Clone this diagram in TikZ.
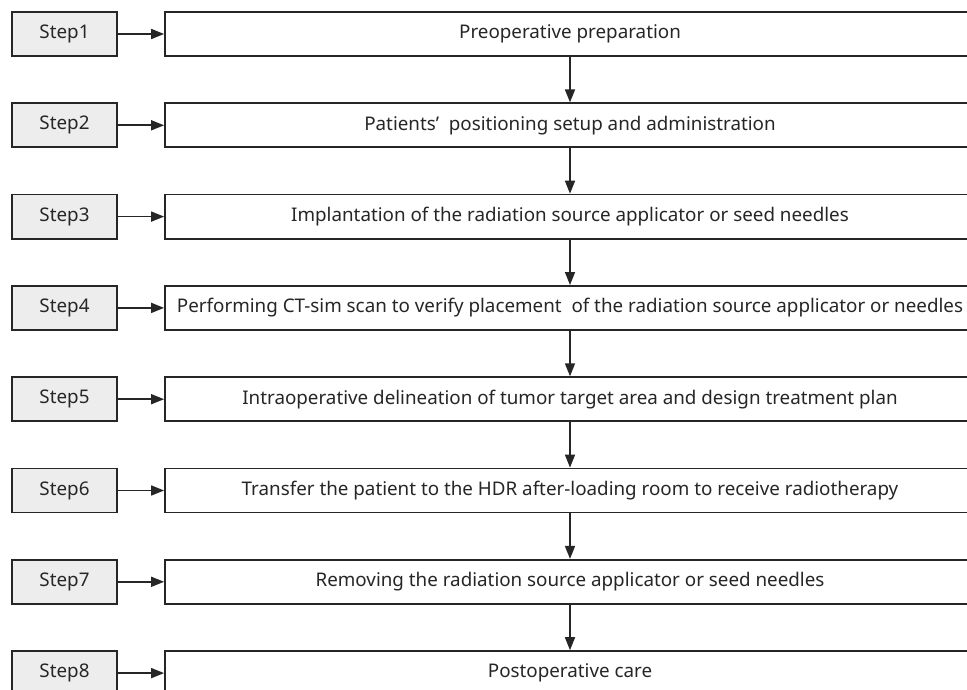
\documentclass[tikz,border=0pt]{standalone}
\usepackage{fontspec}
\setmainfont{Noto Sans}
\usetikzlibrary{arrows.meta}
\begin{document}
\begin{tikzpicture}[x=1pt,y=1pt,
  stepbox/.style={draw=black!85,line width=1.8pt,fill=black!7,minimum width=105pt,minimum height=44pt,inner sep=0pt,font=\fontsize{18.8}{21}\selectfont,text=black!85},
  mainbox/.style={draw=black!85,line width=1.8pt,fill=white,minimum width=810pt,minimum height=44pt,inner sep=0pt,font=\fontsize{18.8}{21}\selectfont,text=black!85},
  arr/.style={draw=black!85,line width=1.6pt,-{Triangle[length=13pt,width=10pt]}}]
\clip (0,0) rectangle (967,-690);
\fill[white] (0,0) rectangle (967,-690);
\def\pitch{91.3}
\foreach \i/\t in {1/Preoperative preparation,
  2/Patients'\ \ positioning setup and administration,
  3/Implantation of the radiation source applicator or seed needles,
  4/Performing CT-sim scan to verify placement\ \ of the radiation source applicator or needles,
  5/Intraoperative delineation of tumor target area and design treatment plan,
  6/Transfer the patient to the HDR after-loading room to receive radiotherapy,
  7/Removing the radiation source applicator or seed needles,
  8/Postoperative care}{
  \node[stepbox] (s\i) at (64.5,{-34-(\i-1)*\pitch}) {\raisebox{-1.5pt}{Step\i}};
  \node[mainbox] (m\i) at (570,{-34-(\i-1)*\pitch}) {\raisebox{-1.5pt}{\t}};
  \draw[arr] (s\i.east) -- (m\i.west);
}
\foreach \i [evaluate=\i as \j using int(\i+1)] in {1,...,7}{
  \draw[arr] (m\i.south) -- (m\j.north);
}
\end{tikzpicture}
\end{document}
